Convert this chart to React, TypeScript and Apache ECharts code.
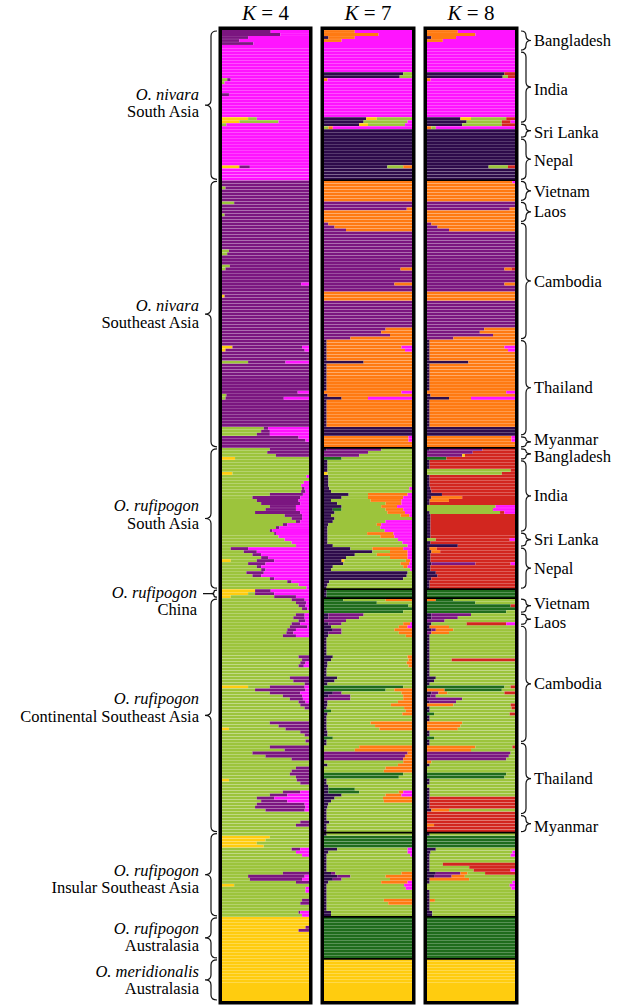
import React, { useEffect, useRef } from "react";
import * as echarts from "echarts";

// ---------- Cluster orders and colours ----------
const K4_ORDER = ["Y", "G", "U", "P"];
const K7_ORDER = ["D", "U", "E", "Y", "G", "O", "P"];
const K8_ORDER = ["D", "U", "O", "E", "Y", "G", "R", "P"];
const CLUSTER_COLORS: Record<string, string> = {
  Y: "#ffcc0f",
  G: "#9cc43c",
  U: "#7b1680",
  P: "#ff14ff",
  D: "#2e0b4b",
  E: "#1f6c1c",
  O: "#ff7a12",
  R: "#d2261f",
};

// ---------- Regions (sampling sites) ----------
const REGION_NAMES = [
  "Bangladesh", "India", "Sri Lanka", "Nepal",
  "Vietnam", "Laos", "Cambodia", "Thailand", "Myanmar",
  "Bangladesh", "India", "Sri Lanka", "Nepal",
  "China",
  "Vietnam", "Laos", "Cambodia", "Thailand", "Myanmar",
  "Insular", "Australasia", "Australasia",
];
const RIGHT_LABEL_REGIONS = [0, 1, 2, 3, 4, 5, 6, 7, 8, 9, 10, 11, 12, 14, 15, 16, 17, 18];

const GROUP_LINE1 = ["O. nivara", "O. nivara", "O. rufipogon", "O. rufipogon", "O. rufipogon", "O. rufipogon", "O. rufipogon", "O. meridionalis"];
const GROUP_LINE2 = ["South Asia", "Southeast Asia", "South Asia", "China", "Continental Southeast Asia", "Insular Southeast Asia", "Australasia", "Australasia"];
const GROUP_FIRST = [0, 4, 9, 13, 14, 19, 20, 21];
const GROUP_LAST = [3, 8, 12, 13, 18, 19, 20, 21];

const TITLES = ["4", "7", "8"];

// ---------- Ancestry proportions, per region ----------
// entry: "<rows> <cluster><percent> ... <cluster>"  (cluster without number = remainder)
const K4_DATA: string[][] = [
  ["1 U56 P", "1 U67 P", "1 U30 P", "1 U20 P", "1 U36 P", "2 P"],
  ["9 P", "1 G6 U4 P", "1 G3 P", "3 P", "1 U8 P", "7 P", "1 Y30 G10 P", "1 Y20 G45 P"],
  ["1 G5 P", "4 P"],
  ["9 P", "1 Y20 U12 P", "4 P"],
  ["2 U", "1 G4 U", "4 U"],
  ["1 G14 U", "3 U", "1 G3 U", "2 U"],
  ["9 U", "1 G8 U", "1 G6 U", "3 U", "1 G9 U", "1 G4 U", "4 U", "1 U P9", "3 U", "1 Y3 U", "14 U"],
  ["2 U", "1 Y12 U P8", "1 Y4 U P5", "3 U", "1 G30 U P27", "9 U", "1 U P13", "1 G5 U", "1 G4 U P29", "9 U", "1 G48 U5 P", "1 G45 U10 P", "1 G40 U15 P"],
  ["1 U P12", "1 U P4", "2 U"],
  ["1 G55 U", "1 G52 U", "1 G62 U", "1 Y15 G"],
  ["4 G", "1 Y12 G", "1 G P3", "1 G", "1 G P6", "1 G P9", "1 G U3 P5", "1 G U5 P4", "1 G55 U38 P", "1 G35 U55 P", "1 G40 U48 P", "1 G45 U45 P", "1 G55 U30 P", "1 G50 U35 P", "1 G38 U52 P", "1 G72 U20 P", "1 G80 U12 P", "1 G85 U5 P", "1 G70 U5 P", "1 G62 U4 P", "1 G55 U3 P"],
  ["1 G60 U2 P", "1 G65 P", "1 G72 P", "1 G80 P", "1 G85 P"],
  ["1 G10 U20 P", "1 G25 U15 P", "1 G35 U10 P", "1 G45 U8 P", "1 Y10 G30 U20 P", "1 G30 U20 P", "1 G40 U5 P", "1 G45 U5 P", "1 G28 U20 P", "1 G35 U10 P", "1 G55 U5 P", "1 G75 U5 P", "1 G88 P", "1 G P3"],
  ["1 Y38 U18 P", "1 Y30 G8 U22 P", "1 Y10 G50 U25 P"],
  ["1 G80 U15 P", "1 G85 U12 P", "1 G88 U8 P", "1 G92 U6 P", "1 G"],
  ["1 G85 U10 P", "1 G82 U13 P", "1 G88 U8 P", "1 G80 U10 P"],
  ["1 G78 U20 P", "1 G75 U10 P", "1 G74 U8 P", "1 G70 U15 P", "6 G", "1 G88 U", "1 G92 U", "1 G90 U6 P", "1 G88 U6 P", "3 G", "1 G78 U", "1 G82 U", "1 G95 U", "1 Y30 G25 U40 P", "1 G38 U58 P", "1 G55 U35 P", "1 G70 U22 P", "1 G78 U15 P", "1 G88 U8 P", "1 G90 U", "1 G95 U", "4 G", "1 G55 U", "1 G65 U", "1 Y8 G65 U", "1 G90 U", "1 G95 U", "1 G", "1 G96 U"],
  ["1 G", "1 G55 U", "1 G72 U", "1 G35 U", "1 G50 U", "1 G80 U", "2 G", "1 G85 U", "1 G80 U", "1 G78 U", "1 G85 U", "1 Y8 G78 U", "1 G90 U", "2 G", "1 G70 U20 P", "1 G55 U20 P", "1 G40 U20 P", "1 G45 U30 P", "1 G40 U55 P", "1 G38 U58 P", "1 G50 U45 P", "1 G"],
  ["2 G", "1 G90 U", "1 G85 U", "2 G"],
  ["1 G", "1 Y55 G", "1 Y50 G", "1 Y40 G", "1 Y48 G", "1 G80 U10 P", "1 G85 P", "1 G92 P", "5 G", "1 G70 U", "1 G30 U65 P", "1 G32 U60 P", "1 G85 U", "1 Y14 G", "1 G P4", "1 G96 P", "2 G", "1 G92 U", "1 G90 U", "2 G", "1 G88 U2 P", "1 G92 P"],
  ["3 Y", "1 Y96 U", "1 Y88 U", "9 Y"],
  ["14 Y"],
];

const K7_DATA: string[][] = [
  ["1 O35 P", "1 O62 P", "1 D5 O30 P", "1 O20 P", "3 P"],
  ["7 P", "1 D90 G", "1 D86 G", "1 O4 P", "12 P", "1 D48 Y12 G", "1 D45 G50 P"],
  ["1 D40 Y10 G42 P", "1 O5 G5 P", "3 D"],
  ["9 D", "1 D72 G18 O", "4 D"],
  ["7 O"],
  ["2 U", "1 U94 O", "4 O"],
  ["1 U5 O", "1 U12 O", "1 U25 O", "12 U", "1 U87 O", "4 U", "1 U80 O", "2 U", "3 O", "9 U", "1 U70 O", "1 U65 O", "1 U75 O", "1 U30 O"],
  ["2 D3 O", "1 D3 O P12", "1 D3 O P8", "3 D3 O", "1 D45 O", "9 D3 O", "1 O P12", "1 D4 O", "1 D20 O30 P", "9 D3 O", "3 D"],
  ["2 O P4", "2 O"],
  ["1 D3 U62 G", "1 U50 G", "1 U40 G", "1 E20 G"],
  ["4 D4 G", "1 G96 Y", "4 D5 G", "1 D6 G P3", "1 D8 G", "1 D28 G22 O45 P", "1 D20 G30 O40 P", "1 D8 G45 O35 P", "1 D15 G55 O18 P", "1 D20 G45 O18 P", "1 D10 E10 G50 O20 P", "1 D12 G60 O20 P", "1 D8 G O10 P3", "1 D12 G", "1 D10 G60 P", "1 D5 G55 O5 P", "1 D4 G60 P", "1 D4 G65 P"],
  ["1 D4 G45 O30 P", "1 D4 G60 O16 P", "1 D4 G80 P", "1 D4 G85 P", "1 D10 G85 P"],
  ["1 D30 G25 O35 P", "1 D55 G20 O20 P", "1 D35 G25 O35 P", "1 D25 G50 O20 P", "1 D20 G70 Y3 O5 P", "1 D22 G65 O10 P", "1 D10 G80 O5 P", "1 D8 G90 P", "1 D95 G", "1 D94 G", "1 D90 G", "1 D6 G", "1 D4 G", "1 D3 G"],
  ["3 D3 E"],
  ["1 E22 G48 O", "1 E60 G", "1 E96 G", "1 E", "1 E90 G"],
  ["1 D5 U40 G", "1 D5 U35 G", "1 U25 G", "1 D5 U15 G70 O8 P"],
  ["1 D8 G77 O10 P", "1 D10 U10 G60 O", "1 D5 U15 G65 O", "1 D5 G88 O", "6 D3 G", "1 D10 G85 O", "1 D8 G88 O", "1 D4 G90 O", "1 D4 G92 O", "3 D3 G", "1 D15 G", "1 D12 G", "1 D4 G", "1 E90 G", "1 E70 G10 O", "1 D10 U10 G68 O", "1 D5 U25 G60 O", "1 U30 G60 O", "1 D4 G80 O", "1 D4 G72 O", "1 D3 G88 O", "1 E8 G85 O", "1 D4 G85 O", "2 D3 G", "1 D3 G50 O", "1 D3 G55 O", "1 D3 G60 O", "1 D4 G", "1 D4 G", "1 E10 G", "1 D3 G"],
  ["1 D3 G", "1 G40 O", "1 G35 O", "1 U95 O", "1 U92 O", "1 U90 O", "1 G90 O", "1 D4 G80 O", "1 G70 O", "1 G68 O", "1 E90 G", "1 E85 G", "2 D3 G", "1 D5 G", "1 D5 E30 G", "1 D5 E35 G45 O5 P", "1 D20 G50 O18 P", "1 D12 G55 O", "1 D8 G60 O", "1 D5 G", "1 D4 G", "2 D3 G"],
  ["2 D3 G", "1 D6 G", "3 D3 G"],
  ["1 D3 G", "4 E", "1 D15 G80 P", "1 D5 G90 P", "1 D3 G95 P", "5 D3 G", "1 D8 U5 G75 O", "1 D15 U15 G40 O", "1 D10 U10 G55 O", "1 D5 G60 O30 P", "1 D3 G88 P", "1 D3 G90 P", "1 D3 G", "2 D3 G", "1 D3 G65 O", "1 D3 G70 O", "2 D3 G", "1 D8 G", "1 D8 G"],
  ["14 E"],
  ["14 Y"],
];

const K8_DATA: string[][] = [
  ["1 O35 P", "1 O55 P", "1 D5 O28 P", "1 O18 P", "3 P"],
  ["7 P", "1 D88 R", "1 D86 G6 R", "1 O4 P", "12 P", "1 D38 Y12 G40 R", "1 D45 G40 R10 P"],
  ["1 D40 G45 R", "1 O5 G5 P", "3 D"],
  ["9 D", "1 D70 G22 R", "4 D"],
  ["1 O P3", "6 O"],
  ["2 U", "1 U94 O", "4 O"],
  ["1 U5 O", "1 U12 O", "1 U25 O", "12 U", "1 U88 O8 R", "4 U", "1 U88 O", "2 U", "3 O", "9 U", "1 U65 O", "1 U60 O", "1 U75 O", "1 U30 O"],
  ["2 D3 O", "1 D3 O P12", "1 D3 O P8", "3 D3 O", "1 D47 O", "9 D3 O", "1 O P10", "1 D4 O", "1 D25 O25 P", "9 D3 O", "3 D"],
  ["2 O P4", "2 O"],
  ["1 D3 U60 R", "1 U52 R", "1 U40 Y3 R", "1 E22 R"],
  ["3 D3 R", "1 G95 R", "1 G85 R", "4 D3 R", "1 D4 R", "1 D5 R", "1 D17 R", "1 D5 O35 R", "1 D3 O22 R", "1 D3 R", "1 G78 P", "1 G75 P", "1 D3 G80 R5 P", "1 D4 R", "5 D4 R"],
  ["2 D4 R", "1 G10 R P6", "1 D4 R", "1 D35 R"],
  ["1 D3 O8 R", "1 D5 O10 R", "3 D4 R", "1 D5 U50 R P5", "2 D4 R", "1 D10 R", "1 D12 R", "1 D5 R", "3 D3 R"],
  ["3 E"],
  ["1 O10 E20 G", "1 E55 G", "1 E95 R", "1 E", "1 E90 G"],
  ["1 D5 U45 G", "1 D5 U30 G", "1 U20 G", "1 D5 G40 R P10"],
  ["1 D3 O22 G", "1 D5 U5 O20 G", "1 U5 O20 G", "1 D3 G", "6 D3 G", "1 D3 G", "1 D3 G25 R", "2 D3 G", "3 D3 G", "1 D10 G", "1 D8 G", "1 D3 G", "1 E88 G R5", "1 O20 E65 G", "1 D5 U8 O10 G R12", "1 D4 U6 G", "1 U40 G", "1 D3 U30 G", "1 O30 G R5", "1 D3 G R4", "1 D3 G", "1 E8 G R6", "2 D3 G", "1 O40 G", "1 O38 G", "1 O35 G", "1 D3 G", "1 D3 G", "1 E8 G", "1 D3 G"],
  ["1 D3 G", "1 O55 G R3", "1 O50 G", "1 U95 G", "1 U93 G", "1 U90 G", "1 O5 G", "1 D3 G", "2 G", "1 E90 G", "1 E88 G", "2 D3 G", "1 G", "3 D3 G", "4 D3 R", "1 D5 O20 G", "1 R"],
  ["3 R", "1 O8 R", "2 R"],
  ["1 D3 G", "4 E", "1 D10 G", "1 D4 G P3", "1 D3 G P5", "2 D3 G", "1 D3 G15 R", "1 D3 G45 R", "1 D3 G50 R P5", "1 D10 U28 O8 G20 R", "1 D8 U20 O15 G", "1 D3 O45 G", "1 D3 G P3", "1 G P6", "1 G P4", "1 D3 G", "2 D3 G", "1 D3 O6 G", "1 D3 G", "2 D3 G", "1 D6 G", "1 D6 G"],
  ["14 E"],
  ["14 Y"],
];

const PANELS = [
  { data: K4_DATA, order: K4_ORDER },
  { data: K7_DATA, order: K7_ORDER },
  { data: K8_DATA, order: K8_ORDER },
];

// ---------- layout ----------
const GRID_LEFT = [222, 324, 427];
const GRID_WIDTH = [87, 88, 88];
const GRID_TOP = 30;
const GRID_HEIGHT = 971;
const GROUP_DY = [-2, 0, -4, 0, -8, 4, -1, 0];
// small vertical nudges of the right-hand labels (per region index)
const RIGHT_DY: Record<number, number> = { 1: 2, 2: 2, 3: 1, 4: 1, 8: -2, 9: 3, 14: -2.5, 15: 3, 18: 3 };
const FONT = '"Liberation Serif", "Times New Roman", serif';
const LABEL_SIZE = 16.5;
const LINE_GAP = 8.6;

function expand(panel: string[][], order: string[]) {
  const rows: number[][] = [];
  const sizes: number[] = [];
  for (const region of panel) {
    let count = 0;
    for (const entry of region) {
      const parts = entry.trim().split(/\s+/);
      const n = parseInt(parts[0], 10);
      const vals: Record<string, number> = {};
      let rest: string | null = null;
      let sum = 0;
      for (const tok of parts.slice(1)) {
        const m = tok.match(/^([A-Z])(\d+)?$/);
        if (!m) continue;
        if (m[2] === undefined) rest = m[1];
        else {
          const v = parseInt(m[2], 10) / 100;
          vals[m[1]] = (vals[m[1]] || 0) + v;
          sum += v;
        }
      }
      if (rest) vals[rest] = (vals[rest] || 0) + Math.max(0, 1 - sum);
      const row = order.map((k) => vals[k] || 0);
      for (let i = 0; i < n; i++) rows.push(row);
      count += n;
    }
    sizes.push(count);
  }
  return { rows, sizes };
}

function bracePath(yTop: number, yBot: number, xEnd: number, xv: number, xt: number) {
  const h = yBot - yTop;
  const r = Math.min(5, h / 4);
  const ym = (yTop + yBot) / 2;
  return (
    `M${xEnd},${yTop} Q${xv},${yTop} ${xv},${yTop + r} L${xv},${ym - r} ` +
    `Q${xv},${ym} ${xt},${ym} Q${xv},${ym} ${xv},${ym + r} L${xv},${yBot - r} ` +
    `Q${xv},${yBot} ${xEnd},${yBot} `
  );
}

export default function App() {
  const ref = useRef<HTMLDivElement>(null);

  useEffect(() => {
    if (!ref.current) return;
    const chart = echarts.init(ref.current, undefined, { renderer: "svg" });

    const expanded = PANELS.map((p) => expand(p.data, p.order));
    const N = expanded[0].rows.length;
    const cats = expanded[0].rows.map((_, i) => String(i));

    const grids = PANELS.map((_, p) => ({
      left: GRID_LEFT[p],
      top: GRID_TOP,
      width: GRID_WIDTH[p],
      height: GRID_HEIGHT,
      containLabel: false,
    }));
    const xAxes = PANELS.map((_, p) => ({
      type: "value", gridIndex: p, min: 0, max: 1, show: false,
    }));
    const yAxes = PANELS.map((_, p) => ({
      type: "category", gridIndex: p, inverse: true, data: cats, show: false,
    }));
    const series: any[] = [];
    PANELS.forEach((panel, p) => {
      panel.order.forEach((k, ci) => {
        series.push({
          type: "bar",
          name: `K${TITLES[p]}-${k}`,
          xAxisIndex: p,
          yAxisIndex: p,
          stack: `panel${p}`,
          barCategoryGap: "6%",
          silent: true,
          itemStyle: { color: CLUSTER_COLORS[k] },
          data: expanded[p].rows.map((r) => r[ci]),
        });
      });
    });

    chart.setOption({
      animation: false,
      backgroundColor: "#ffffff",
      grid: grids,
      xAxis: xAxes,
      yAxis: yAxes,
      series,
    });

    // --- geometry from the library's scales ---
    const geo = PANELS.map((_, p) => {
      const a = chart.convertToPixel({ gridIndex: p } as any, [0, 0]) as number[];
      const b = chart.convertToPixel({ gridIndex: p } as any, [1, N - 1]) as number[];
      const bw = (b[1] - a[1]) / (N - 1);
      return { x0: a[0], x1: b[0], top: a[1] - bw / 2, bw };
    });
    const rowY = (i: number) => geo[0].top + i * geo[0].bw;
    const sizes = expanded[0].sizes;
    const starts: number[] = [];
    let acc = 0;
    sizes.forEach((s) => { starts.push(acc); acc += s; });

    const graphics: any[] = [];

    // titles
    PANELS.forEach((_, p) => {
      graphics.push({
        type: "text",
        x: (geo[p].x0 + geo[p].x1) / 2,
        y: 13,
        z: 100,
        style: {
          text: `{k|K} = ${TITLES[p]}`,
          fontFamily: FONT,
          fontSize: 21,
          fill: "#000",
          align: "center",
          verticalAlign: "middle",
          rich: { k: { fontStyle: "italic", fontFamily: FONT, fontSize: 21, fill: "#000" } },
        },
      });
    });

    // separators inside K=7 and K=8 between taxon groups
    const groupBounds = GROUP_FIRST.slice(1).map((r) => starts[r]);
    [1, 2].forEach((p) => {
      groupBounds.forEach((row) => {
        const y = rowY(row);
        graphics.push({
          type: "line", z: 90,
          shape: { x1: geo[p].x0, y1: y, x2: geo[p].x1, y2: y },
          style: { stroke: "#000", lineWidth: 1.6 },
        });
      });
    });

    // frames
    PANELS.forEach((_, p) => {
      graphics.push({
        type: "rect", z: 95,
        shape: {
          x: geo[p].x0 - 1.75, y: geo[p].top - 1.75,
          width: geo[p].x1 - geo[p].x0 + 3.5, height: N * geo[p].bw + 3.5,
        },
        style: { fill: "none", stroke: "#000", lineWidth: 3.5 },
      });
    });

    // left braces + labels
    const lx = geo[0].x0;
    let leftD = "";
    GROUP_FIRST.forEach((f, g) => {
      const yTop = rowY(starts[f]) + 1;
      const yBot = rowY(starts[GROUP_LAST[g]] + sizes[GROUP_LAST[g]]) - 1;
      const ym = (yTop + yBot) / 2;
      const isChina = GROUP_LINE2[g] === "China";
      if (isChina) {
        leftD += bracePath(yTop, yBot, lx - 5, lx - 8, lx - 11);
        leftD += `M${lx - 11},${ym} L${lx - 19},${ym} `;
        graphics.push({
          type: "text", z: 100, x: lx - 25, y: ym - 1,
          style: { text: GROUP_LINE1[g], fontFamily: FONT, fontStyle: "italic", fontSize: LABEL_SIZE, fill: "#000", align: "right", verticalAlign: "middle" },
        });
        graphics.push({
          type: "text", z: 100, x: lx - 25, y: ym - 1 + 2 * LINE_GAP,
          style: { text: GROUP_LINE2[g], fontFamily: FONT, fontSize: LABEL_SIZE, fill: "#000", align: "right", verticalAlign: "middle" },
        });
      } else {
        leftD += bracePath(yTop, yBot, lx - 5, lx - 11, lx - 17);
        const c = ym + GROUP_DY[g];
        graphics.push({
          type: "text", z: 100, x: lx - 23, y: c - LINE_GAP,
          style: { text: GROUP_LINE1[g], fontFamily: FONT, fontStyle: "italic", fontSize: LABEL_SIZE, fill: "#000", align: "right", verticalAlign: "middle" },
        });
        graphics.push({
          type: "text", z: 100, x: lx - 23, y: c + LINE_GAP,
          style: { text: GROUP_LINE2[g], fontFamily: FONT, fontSize: LABEL_SIZE, fill: "#000", align: "right", verticalAlign: "middle" },
        });
      }
    });

    // right braces + labels
    const rx = geo[2].x1;
    let rightD = "";
    RIGHT_LABEL_REGIONS.forEach((ri) => {
      const yTop = rowY(starts[ri]) + 1;
      const yBot = rowY(starts[ri] + sizes[ri]) - 1;
      const ym = (yTop + yBot) / 2;
      rightD += bracePath(yTop, yBot, rx + 6, rx + 11, rx + 16);
      graphics.push({
        type: "text", z: 100, x: rx + 19, y: ym + (RIGHT_DY[ri] || 0),
        style: { text: REGION_NAMES[ri], fontFamily: FONT, fontSize: LABEL_SIZE, fill: "#000", align: "left", verticalAlign: "middle" },
      });
    });

    echarts.graphic.registerShape("leftBraces", (echarts.graphic as any).extendPath(leftD, {}));
    echarts.graphic.registerShape("rightBraces", (echarts.graphic as any).extendPath(rightD, {}));
    graphics.push({
      type: "leftBraces", z: 100, x: 0, y: 0,
      style: { fill: "none", stroke: "#111", lineWidth: 1.2 },
    });
    graphics.push({
      type: "rightBraces", z: 100, x: 0, y: 0,
      style: { fill: "none", stroke: "#111", lineWidth: 1.2 },
    });

    chart.setOption({ graphic: graphics });

    return () => {
      chart.dispose();
    };
  }, []);

  return (
    <div
      ref={ref}
      style={{ position: "fixed", left: 0, top: 0, width: 622, height: 1008, background: "#fff" }}
    />
  );
}
